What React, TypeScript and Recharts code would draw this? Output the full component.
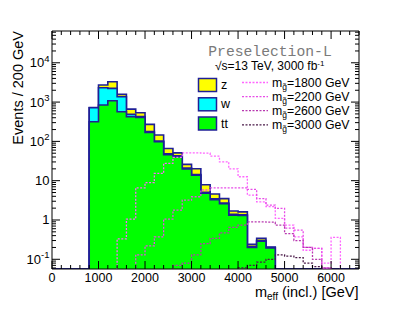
import React from 'react';
import { ComposedChart, Area, Line, XAxis, YAxis, ReferenceArea } from 'recharts';

// lower edge of each 200 GeV bin
const binStart = [
  0, 200, 400, 600, 800, 1000, 1200, 1400, 1600, 1800, 2000,
  2200, 2400, 2600, 2800, 3000, 3200, 3400, 3600, 3800, 4000,
  4200, 4400, 4600, 4800, 5000, 5200, 5400, 5600, 5800, 6000,
  6200, 6400,
];

// backgrounds (events per bin)
const ttEvents = [
  0, 0, 0, 0, 316, 840, 1080, 566, 423, 407, 169,
  98, 46, 41, 20, 13.8, 4.8, 3.3, 2.6, 1.33, 1.3,
  0.2, 0.29, 0.195, 0, 0, 0, 0, 0, 0, 0,
  0, 0,
];
const wEvents = [
  0, 0, 0, 0, 400, 1470, 1150, 800, 63, 19, 8,
  4, 2, 2, 1, 0.6, 0.3, 0.15, 0.1, 0.06, 0.06,
  0.01, 0.01, 0.005, 0, 0, 0, 0, 0, 0, 0,
  0, 0,
];
const zEvents = [
  0, 0, 0, 0, 10, 400, 1060, 205, 178, 109, 94,
  43, 18, 8, 5, 5.7, 2.8, 1.15, 0.8, 0.3, 0.25,
  0.03, 0.04, 0.005, 0, 0, 0, 0, 0, 0, 0,
  0, 0,
];

// gluino signals
const sig1800 = [
  0, 0, 0, 0, 0, 0, 0, 0.33, 1.05, 6.6, 8.9,
  15.3, 27.5, 39, 51, 51, 50, 42, 30, 20, 12.6,
  4.3, 2.9, 2.2, 1.1, 0.74, 0.37, 0.17, 0.19, 0.08, 0.36,
  0, 0,
];
const sig2200 = [
  0, 0, 0, 0, 0, 0, 0, 0, 0, 0.13, 0.22,
  0.37, 1.05, 1.78, 3.2, 3.9, 5.8, 6.6, 6.6, 6.6, 6.6,
  6.0, 3.5, 2.4, 1.97, 0.62, 0.55, 0.2, 0.19, 0.06, 0,
  0, 0,
];
const sig2600 = [
  0, 0, 0, 0, 0, 0, 0, 0, 0, 0, 0,
  0, 0, 0.07, 0.08, 0.13, 0.25, 0.34, 0.47, 0.65, 0.74,
  0.9, 0.9, 0.88, 0.74, 0.45, 0.3, 0.2, 0.1, 0.06, 0,
  0, 0,
];
const sig3000 = [
  0, 0, 0, 0, 0, 0, 0, 0, 0, 0, 0,
  0, 0, 0, 0, 0, 0, 0, 0, 0, 0.06,
  0.07, 0.085, 0.1, 0.13, 0.12, 0.11, 0.08, 0.065, 0.05, 0,
  0, 0,
];

const xLabels = [0, 1000, 2000, 3000, 4000, 5000, 6000];
const yDecades = [0.1, 1, 10, 100, 1000, 10000];

const signals = [
  { key: 's1800', label: '1800', color: '#ff66ff' },
  { key: 's2200', label: '2200', color: '#e84ce8' },
  { key: 's2600', label: '2600', color: '#b838b0' },
  { key: 's3000', label: '3000', color: '#4a1a48' },
];

const W = 399;
const H = 316;
const PL = 52;
const PR = 359;
const PT = 31;
const PB = 269;
const X_MAX = 6600;
const Y_MIN = 0.0566;
const Y_MAX = 64400;
const EDGE = '#1f1f96';
const FONT = '"Liberation Sans", Arial, sans-serif';

const floorBg = (v: number) => (v > 0 ? v : Y_MIN);
const floorSig = (v: number) => (v > 0 ? v : Y_MIN / 20);

const rows = binStart.map((m, i) => ({
  m,
  tt: floorBg(ttEvents[i]),
  ttw: floorBg(ttEvents[i] + wEvents[i]),
  total: floorBg(ttEvents[i] + wEvents[i] + zEvents[i]),
  s1800: floorSig(sig1800[i]),
  s2200: floorSig(sig2200[i]),
  s2600: floorSig(sig2600[i]),
  s3000: floorSig(sig3000[i]),
}));
// closing edge so the last bin is drawn
rows.push({ ...rows[rows.length - 1], m: X_MAX });

const xTicks: number[] = [];
for (let v = 0; v <= X_MAX; v += 200) xTicks.push(v);

const yTicks: number[] = [];
[0.01, ...yDecades].forEach((d) => {
  for (let k = 1; k <= 9; k++) {
    const v = d * k;
    if (v >= Y_MIN && v <= Y_MAX) yTicks.push(v);
  }
});

const XTick = (props: any) => {
  const { x, payload } = props;
  const v = payload.value;
  const major = v % 1000 === 0;
  const len = major ? 8 : 4;
  return (
    <g>
      <line x1={x} x2={x} y1={PB} y2={PB - len} stroke="#000" />
      <line x1={x} x2={x} y1={PT} y2={PT + len} stroke="#000" />
      {major && xLabels.includes(v) && (
        <text x={x} y={281.5} textAnchor="middle" fontSize={12.5} fontFamily={FONT} fill="#000">
          {v}
        </text>
      )}
    </g>
  );
};

const YTick = (props: any) => {
  const { y, payload } = props;
  const v = payload.value;
  const exp = Math.round(Math.log10(v));
  const major = Math.abs(Math.log10(v) - exp) < 1e-6;
  const len = major ? 8 : 4;
  return (
    <g>
      <line x1={PL} x2={PL + len} y1={y} y2={y} stroke="#000" />
      <line x1={PR} x2={PR - len} y1={y} y2={y} stroke="#000" />
      {major && (
        <text x={49.5} y={y + 4.5} textAnchor="end" fontSize={13} fontFamily={FONT} fill="#000">
          {exp === 0 ? '1' : '10'}
          {(exp < 0 || exp > 1) && (
            <tspan dy={-5.5} fontSize={9.5}>
              {exp}
            </tspan>
          )}
        </text>
      )}
    </g>
  );
};

const Overlay = () => (
  <svg width={W} height={H} style={{ position: 'absolute', left: 0, top: 0, pointerEvents: 'none' }}>
    <text transform="rotate(-90)" x={-31} y={23} textAnchor="end" fontSize={14.5} fontFamily={FONT} fill="#000">
      Events / 200 GeV
    </text>
    <text x={358.5} y={296.5} textAnchor="end" fontSize={14.5} fontFamily={FONT} fill="#000">
      m<tspan dy={3} fontSize={10}>eff</tspan>
      <tspan dy={-3}> (incl.) [GeV]</tspan>
    </text>

    <text x={270} y={56} textAnchor="middle" fontSize={14.7} fontFamily='"Liberation Mono", monospace' fill="#7a7a7a">
      Preselection-L
    </text>
    <text x={215} y={70} fontSize={12} fontFamily={FONT} fill="#000">
      √s=13 TeV, 3000 fb<tspan dy={-4} fontSize={8}>-1</tspan>
    </text>

    {[
      { name: 'z', fill: '#ffff00', y: 78.5 },
      { name: 'w', fill: '#00ffff', y: 97.8 },
      { name: 'tt', fill: '#00ff00', y: 117 },
    ].map((e) => (
      <g key={e.name}>
        <rect x={198.5} y={e.y} width={18} height={13} fill={e.fill} stroke={EDGE} strokeWidth={1.5} />
        <text x={221} y={e.y + 10.5} fontSize={12.5} fontFamily={FONT} fill="#000">
          {e.name}
        </text>
      </g>
    ))}

    {signals.map((s, i) => {
      const ly = 82.5 + i * 14.1;
      return (
        <g key={s.key}>
          <line x1={242} x2={268} y1={ly} y2={ly} stroke={s.color} strokeWidth={1.3} strokeDasharray="2 1.5" />
          <text x={272} y={ly + 4} fontSize={12.3} fontFamily={FONT} fill="#000">
            m<tspan dy={3} fontSize={8.5}>g̃</tspan>
            <tspan dy={-3}>={s.label} GeV</tspan>
          </text>
        </g>
      );
    })}
  </svg>
);

export default function App() {
  return (
    <div style={{ position: 'absolute', left: 0, top: 0, width: W, height: H, background: '#fff' }}>
      <ComposedChart
        width={W}
        height={H}
        data={rows}
        margin={{ top: PT, right: W - PR, bottom: H - PB - 30, left: 0 }}
      >
        <Area dataKey="total" type="stepAfter" fill="#ffff00" fillOpacity={1} stroke={EDGE} strokeWidth={1.6} isAnimationActive={false} />
        <Area dataKey="ttw" type="stepAfter" fill="#00ffff" fillOpacity={1} stroke={EDGE} strokeWidth={1.6} isAnimationActive={false} />
        <Area dataKey="tt" type="stepAfter" fill="#00ff00" fillOpacity={1} stroke={EDGE} strokeWidth={1.6} isAnimationActive={false} />
        {signals.map((s) => (
          <Line
            key={s.key}
            dataKey={s.key}
            type="stepAfter"
            stroke={s.color}
            strokeWidth={1.3}
            strokeDasharray="2 1.5"
            dot={false}
            activeDot={false}
            isAnimationActive={false}
          />
        ))}
        <ReferenceArea x1={0} x2={X_MAX} y1={Y_MIN} y2={Y_MAX} fill="none" stroke="#000" strokeWidth={1} ifOverflow="visible" />
        <XAxis
          dataKey="m"
          type="number"
          domain={[0, X_MAX]}
          ticks={xTicks}
          interval={0}
          tick={(p: any) => <XTick {...p} />}
          tickLine={false}
          axisLine={false}
          height={30}
          allowDataOverflow
        />
        <YAxis
          type="number"
          scale="log"
          domain={[Y_MIN, Y_MAX]}
          ticks={yTicks}
          interval={0}
          tick={(p: any) => <YTick {...p} />}
          tickLine={false}
          axisLine={false}
          width={PL}
          allowDataOverflow
        />
      </ComposedChart>
      <Overlay />
    </div>
  );
}
